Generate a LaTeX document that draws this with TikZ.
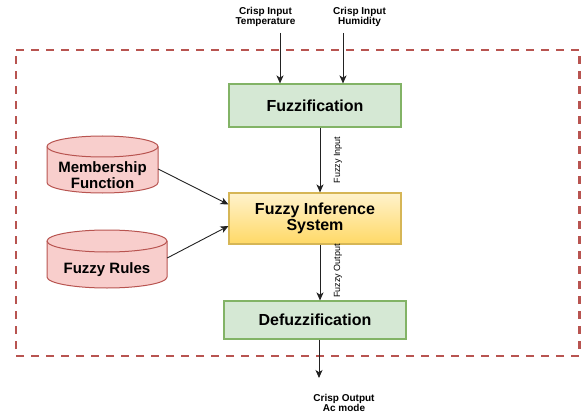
\documentclass[tikz,border=0pt]{standalone}
\usepackage{fontspec}
\setmainfont{Liberation Sans}
\usetikzlibrary{arrows.meta}
\definecolor{greenfill}{HTML}{D5E8D4}
\definecolor{greenline}{HTML}{82B366}
\definecolor{yelltop}{HTML}{FFF2CC}
\definecolor{yellbot}{HTML}{FFD966}
\definecolor{yellline}{HTML}{D6B656}
\definecolor{redfill}{HTML}{F8CECC}
\definecolor{redline}{HTML}{B85450}
\definecolor{arrowc}{HTML}{222222}
\begin{document}
\begin{tikzpicture}[x=1pt,y=-1pt,
  procbox/.style={draw=greenline, fill=greenfill, line width=1.1pt, inner sep=0pt,
    font=\fontsize{16}{18}\selectfont\bfseries, align=center},
  fisbox/.style={draw=yellline, top color=yelltop, bottom color=yellbot, line width=1.1pt,
    inner sep=0pt, font=\fontsize{16}{16.5}\selectfont\bfseries, align=center},
  cyltext/.style={inner sep=0pt, font=\fontsize{15}{16}\selectfont\bfseries, align=center},
  cylshape/.style={fill=redfill, draw=redline, line width=1pt},
  smalltext/.style={inner sep=0pt, font=\fontsize{10}{10.7}\selectfont\bfseries, align=center},
  edgelabel/.style={inner sep=0pt, font=\fontsize{9}{10}\selectfont, rotate=90},
  conn/.style={draw=arrowc, line width=0.9pt, -{Stealth[length=8pt,width=7pt,inset=2.2pt]}},
  groupbox/.style={draw=redline, line width=2.4pt, dash pattern=on 8pt off 7pt}
]
\useasboundingbox (0,0) rectangle (581,417);

% dashed group frame
\draw[groupbox] (16,50) -- (579.6,50) -- (579.6,356) -- (16,356) -- cycle;

% cylinders
\path[cylshape] (47,146.5) -- (47,182.5)
  arc[start angle=180,end angle=360,x radius=55.5pt,y radius=10.5pt] -- (158,146.5)
  arc[start angle=0,end angle=180,x radius=55.5pt,y radius=10.5pt] -- cycle;
\draw[redline, line width=1pt] (47,146.5) arc[start angle=180,end angle=360,x radius=55.5pt,y radius=10.5pt];

\path[cylshape] (47,241) -- (47,277)
  arc[start angle=180,end angle=360,x radius=60pt,y radius=11pt] -- (167,241)
  arc[start angle=0,end angle=180,x radius=60pt,y radius=11pt] -- cycle;
\draw[redline, line width=1pt] (47,241) arc[start angle=180,end angle=360,x radius=60pt,y radius=11pt];

\node[cyltext, minimum width=111pt] (mf) at (102.5,175) {Membership\\Function};
\node[cyltext, minimum width=120pt] (fr) at (107,270) {Fuzzy Rules};

% process boxes
\node[procbox, minimum width=172pt, minimum height=43pt] (fuzz) at (315,105.5) {Fuzzification};
\node[fisbox, minimum width=172pt, minimum height=51pt] (fis) at (315,218.5) {Fuzzy Inference\\System};
\node[procbox, minimum width=182pt, minimum height=38pt] (defuzz) at (315,320) {Defuzzification};

% inputs / output texts
\node[smalltext] (tin) at (265.5,17) {Crisp Input\\Temperature};
\node[smalltext] (hin) at (359.5,17) {Crisp Input\\Humidity};
\node[smalltext] (cout) at (344,403) {Crisp Output\\Ac mode};

\coordinate (tstart) at (280,33);
\coordinate (hstart) at (343,33);
\coordinate (oend) at (319,378);

% edge labels
\node[edgelabel] (fin) at (338,160) {Fuzzy Input};
\node[edgelabel] (fout) at (338,271) {Fuzzy Output};

% connectors
\draw[conn] (tstart) -- (tstart |- fuzz.north);
\draw[conn] (hstart) -- (hstart |- fuzz.north);
\draw[conn] ([xshift=5pt]fuzz.south) -- ([xshift=5pt]fis.north);
\draw[conn] ([xshift=5pt]fis.south) -- ([xshift=5pt]defuzz.north);
\draw[conn] (oend |- defuzz.south) -- (oend);
\draw[conn] ([yshift=6pt]mf.east) -- ([yshift=14pt]fis.west);
\draw[conn] ([yshift=12pt]fr.east) -- ([yshift=-7.5pt]fis.west);
\end{tikzpicture}
\end{document}
